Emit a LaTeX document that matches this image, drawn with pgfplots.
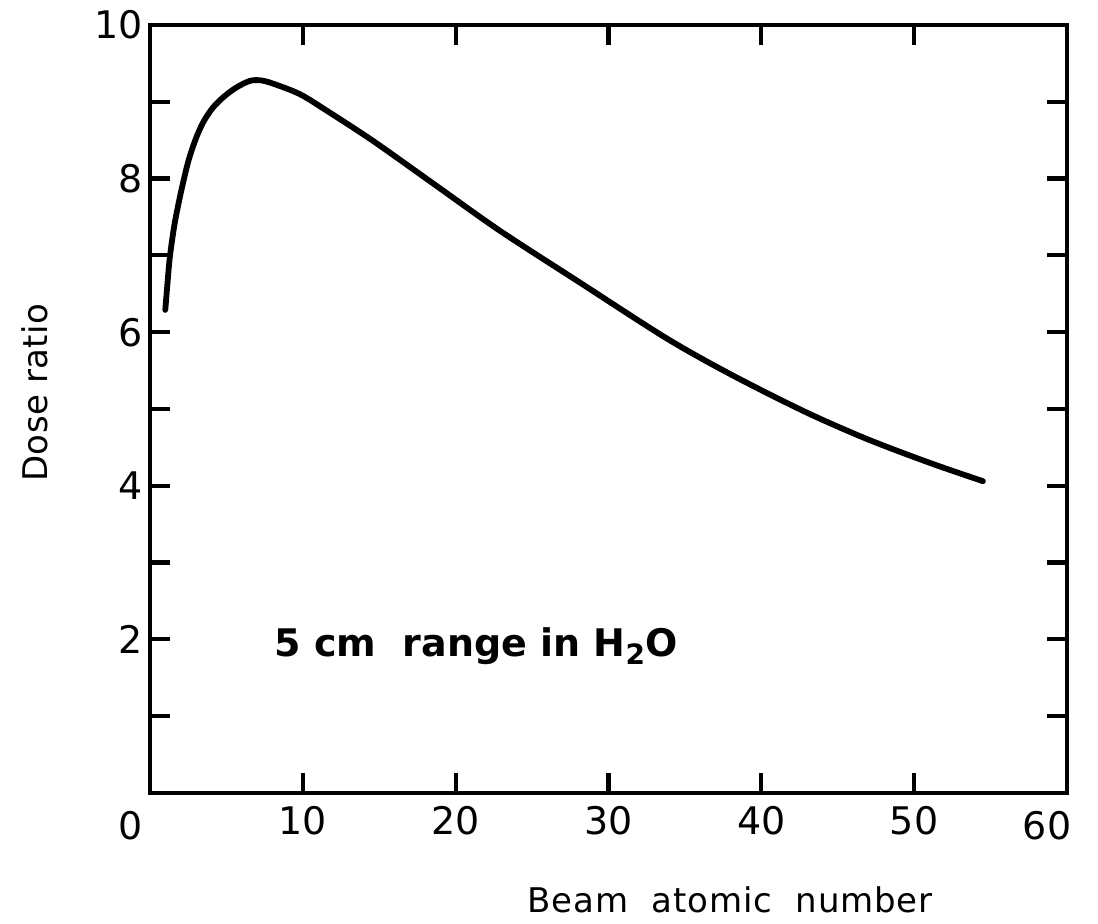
\documentclass[border=0pt]{standalone}
\usepackage{fontspec}
\setmainfont{DejaVu Sans}
\usepackage{pgfplots}
\pgfplotsset{compat=1.18}
\begin{document}
\begin{tikzpicture}
\path[use as bounding box] (-75pt,-65.5pt) rectangle (474pt,396.5pt);
\begin{axis}[
  at={(0,0)}, anchor=south west,
  scale only axis, width=458.5pt, height=384pt,
  xmin=0, xmax=60, ymin=0, ymax=10,
  axis line style={line width=2.1pt},
  xtick={0,10,...,60}, xticklabels={,10,20,30,40,50,},
  ytick={0,1,...,10}, yticklabels={,,2,,4,,6,,8,,10},
  major tick length=10pt,
  every tick/.style={black, line width=2.1pt},
  tick align=inside,
  /pgf/number format/assume math mode=true,
  ticklabel style={font=\fontsize{19}{19}\selectfont},
  xticklabel style={yshift=-3pt},
  clip=false,
]
\addplot[black, line width=2.9pt, smooth, tension=0.5, line cap=round] coordinates {
(1.0,6.29) (1.15,6.65) (1.3,6.98) (1.6,7.4) (2.0,7.8) (2.5,8.22) (3.0,8.52) (3.5,8.74) (4.1,8.92) (4.8,9.06) (5.6,9.18) (6.5,9.27) (7.2,9.28) (8.0,9.24) (9.8,9.1) (11.6,8.88) (14.6,8.49) (18.5,7.94) (22.9,7.32) (28.1,6.65) (33.8,5.92) (38.1,5.44) (42.9,4.96) (46.9,4.61) (51.0,4.30) (54.5,4.06)
};
\node[font=\fontsize{19}{19}\selectfont] at (axis cs:-1.3,-0.42) {0};
\node[font=\fontsize{19}{19}\selectfont] at (axis cs:58.7,-0.42) {60};
\node[font=\fontsize{17}{17}\selectfont\addfontfeatures{LetterSpace=2.5}] at (axis cs:37.96,-1.39) {Beam\ \ atomic\ \ number};
\node[font=\fontsize{17}{17}\selectfont\addfontfeatures{LetterSpace=1}, rotate=90] at (axis cs:-7.53,5.21) {Dose\ ratio};
\node[font=\bfseries\fontsize{19}{19}\selectfont, anchor=base west] at (axis cs:7.7,1.78) {5 cm\ \ range in H\raisebox{-0.4ex}{\fontsize{14}{14}\selectfont 2}O};
\end{axis}
\end{tikzpicture}
\end{document}
